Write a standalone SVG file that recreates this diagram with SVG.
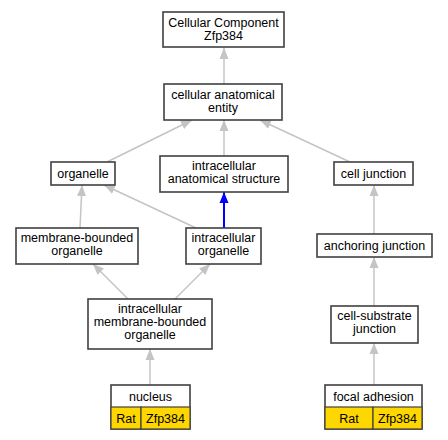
<svg xmlns="http://www.w3.org/2000/svg" width="448" height="440" viewBox="0 0 448 440">
<defs>
<style>
.n rect{fill:#fff;stroke:#404040;stroke-width:1.6}
.n rect.y{fill:#ffd700;stroke:#404040;stroke-width:1.2}
.n text{font-family:"Liberation Sans",Arial,sans-serif;font-size:12.5px;fill:#000;text-anchor:middle}
.e{fill:none;stroke:#c4c4c4;stroke-width:1.5;marker-end:url(#ag)}
.b{fill:none;stroke:#0000ff;stroke-width:2;marker-end:url(#ab)}
</style>
<marker id="ag" markerUnits="userSpaceOnUse" markerWidth="12" markerHeight="10" refX="11" refY="5" orient="auto" viewBox="0 0 12 10"><path d="M0,0.5 L11,5 L0,9.5 Z" fill="#c4c4c4"/></marker>
<marker id="ab" markerUnits="userSpaceOnUse" markerWidth="12" markerHeight="10" refX="11" refY="5" orient="auto" viewBox="0 0 12 10"><path d="M0,0.5 L11,5 L0,9.5 Z" fill="#0000ff"/></marker>
</defs>
<rect width="448" height="440" fill="#fff"/>
<g id="edges">
<path class="e" d="M224,84 L224,48"/>
<path class="e" d="M107,162 L192,120"/>
<path class="e" d="M224,155 L224,120"/>
<path class="e" d="M350,162 L260,120"/>
<path class="e" d="M80,228 L82,185"/>
<path class="e" d="M196,228 L104,185"/>
<path class="b" d="M224,228 L224,192"/>
<path class="e" d="M374,234 L374,185"/>
<path class="e" d="M128,299 L93,264"/>
<path class="e" d="M175,299 L210,264"/>
<path class="e" d="M374,306 L374,257"/>
<path class="e" d="M150,385 L150,349"/>
<path class="e" d="M374,385 L374,343"/>
</g>
<g id="n1" class="n"><rect x="163" y="12" width="121" height="35"/><text x="223.5" y="26.5">Cellular Component</text><text x="223.5" y="39.5">Zfp384</text></g>
<g id="n2" class="n"><rect x="164" y="84" width="118" height="36"/><text x="223" y="98.5">cellular anatomical</text><text x="223" y="111.5">entity</text></g>
<g id="n3" class="n"><rect x="51" y="162" width="64" height="23"/><text x="83" y="177.5">organelle</text></g>
<g id="n4" class="n"><rect x="160" y="156" width="128" height="36"/><text x="224" y="170">intracellular</text><text x="224" y="183">anatomical structure</text></g>
<g id="n5" class="n"><rect x="334" y="162" width="79" height="23"/><text x="373.5" y="177.5">cell junction</text></g>
<g id="n6" class="n"><rect x="16" y="228" width="122" height="36"/><text x="77" y="242">membrane-bounded</text><text x="77" y="255">organelle</text></g>
<g id="n7" class="n"><rect x="186" y="228" width="75" height="36"/><text x="223.5" y="242">intracellular</text><text x="223.5" y="255">organelle</text></g>
<g id="n8" class="n"><rect x="317" y="234" width="115" height="23"/><text x="374.5" y="249.5">anchoring junction</text></g>
<g id="n9" class="n"><rect x="88" y="299" width="124" height="50"/><text x="150" y="313">intracellular</text><text x="150" y="326">membrane-bounded</text><text x="150" y="339">organelle</text></g>
<g id="n10" class="n"><rect x="331" y="306" width="87" height="37"/><text x="374.5" y="320">cell-substrate</text><text x="374.5" y="333">junction</text></g>
<g id="n11" class="n"><rect x="111" y="385" width="79" height="44"/><rect class="y" x="111" y="407" width="30" height="22"/><rect class="y" x="141" y="407" width="49" height="22"/><text x="150.5" y="400.5">nucleus</text><text x="126" y="422.5">Rat</text><text x="165.5" y="422.5">Zfp384</text></g>
<g id="n12" class="n"><rect x="325" y="385" width="97" height="44"/><rect class="y" x="325" y="407" width="48" height="22"/><rect class="y" x="373" y="407" width="49" height="22"/><text x="373.5" y="400.5">focal adhesion</text><text x="349" y="422.5">Rat</text><text x="397.5" y="422.5">Zfp384</text></g>
</svg>
